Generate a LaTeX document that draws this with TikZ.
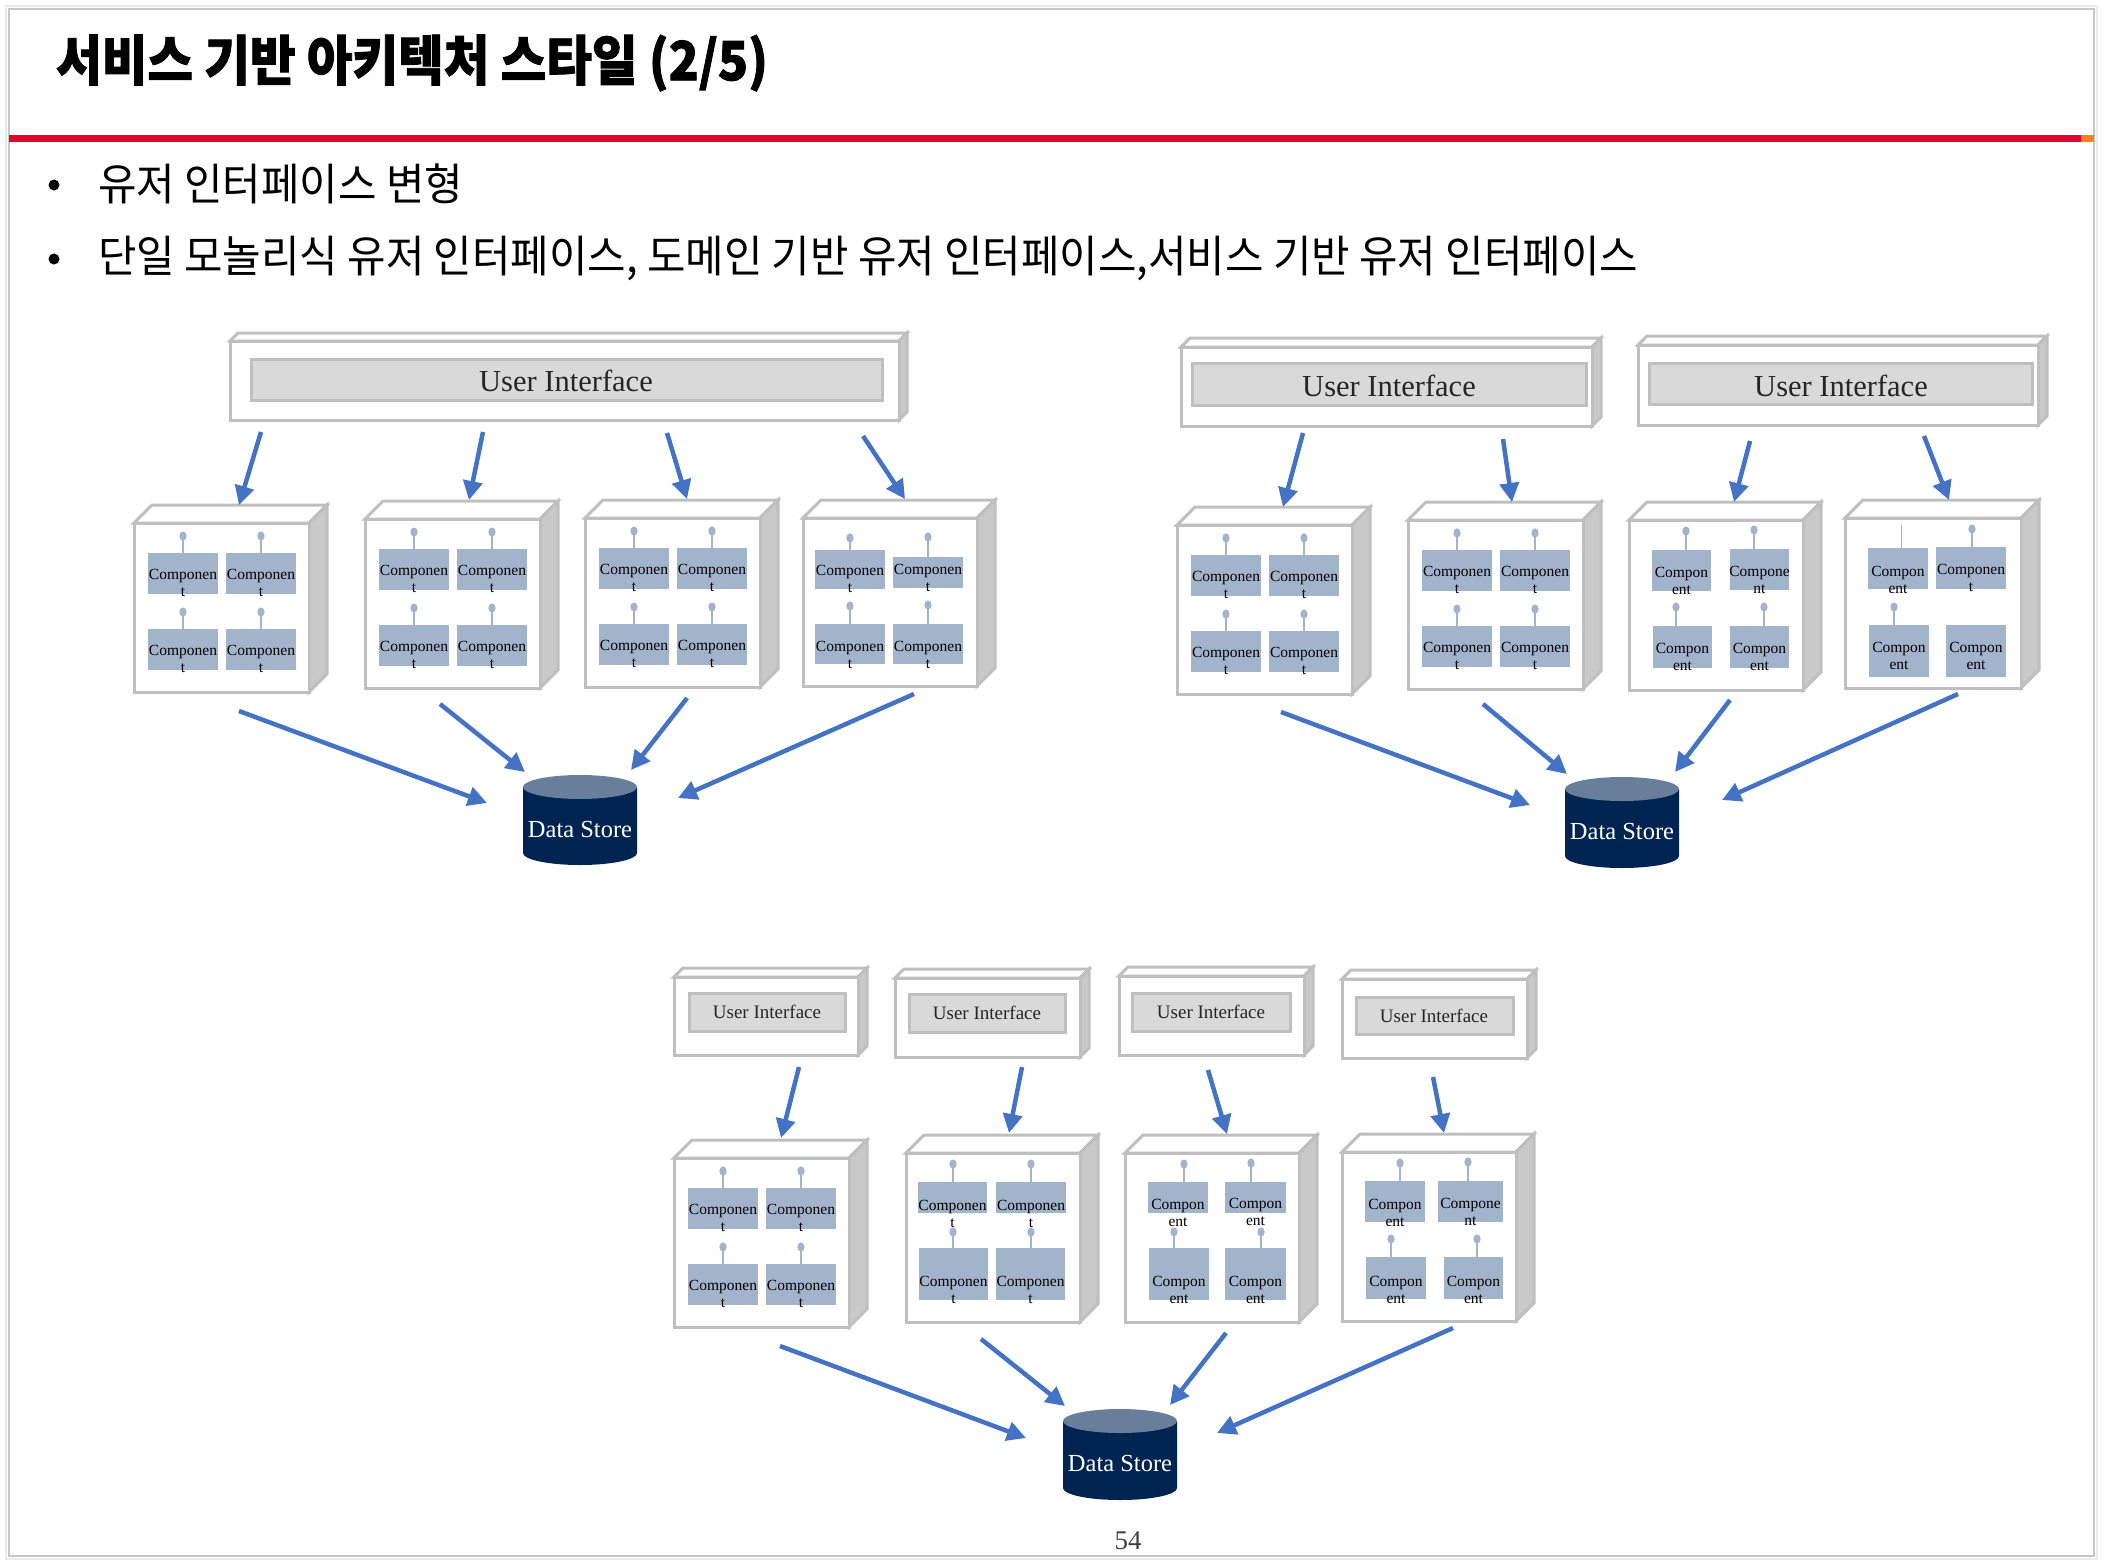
\documentclass[tikz,border=0pt]{standalone}
\usepackage{fontspec}
\setmainfont{Liberation Serif}
\newfontfamily\krfont{Noto Sans CJK KR}
\newfontfamily\krheavy{Noto Sans CJK KR}[BoldFeatures={FakeBold=1.6}]
\usetikzlibrary{arrows.meta,fit,calc}
\definecolor{compblue}{HTML}{A2B3CC}
\definecolor{linegray}{HTML}{BFBFBF}
\definecolor{sidegray}{HTML}{C9C9C9}
\definecolor{barfill}{HTML}{D9D9D9}
\definecolor{arrowblue}{HTML}{4472C4}
\definecolor{dsnavy}{HTML}{002452}
\definecolor{dstop}{HTML}{687E9B}
\definecolor{redline}{HTML}{E8002D}
\definecolor{orangeline}{HTML}{F58220}
\definecolor{uitext}{HTML}{262626}
\definecolor{pagegray}{HTML}{404040}

% 3D box: name, x1, y1, x2, y2, depth
\newcommand\uthreed[6]{%
  \draw[cubeline, fill=white] (#2,#3) -- (#2+#6,#3-#6) -- (#4+#6,#3-#6) -- (#4,#3) -- cycle;
  \draw[cubeline, fill=sidegray] (#4,#3) -- (#4+#6,#3-#6) -- (#4+#6,#5-#6) -- (#4,#5) -- cycle;
  \node[cubefront, fit={(#2,#3) (#4,#5)}] (#1) {};
}
% component: name, x1, y1, x2, y2, line1, line2, baseline
\newcommand\ucomp[8]{%
  \node[compbox, fit={(#2,#3) (#4,#5)}] (#1) {};
  \node[comptext] (#1-a) at ({(#2+#4)/2},#8) {#6};
  \node[comptext] (#1-b) at ({(#2+#4)/2},#8+17.5) {#7};
}
% lollipop: x, circle y, top of box y
\newcommand\ulolli[3]{%
  \draw[lolline] (#1,#2) -- (#1,#3);
  \fill[compblue] (#1,#2) ellipse [x radius=3.6pt, y radius=4.6pt];
}
% standard cube: name, X, Y
\newcommand\ustdcube[3]{%
  \uthreed{#1}{#2}{#3}{#2+175}{#3+169}{18}
  \ucomp{#1-1}{#2+14}{#3+30}{#2+84}{#3+71}{Componen}{t}{#3+56}
  \ucomp{#1-2}{#2+92}{#3+30}{#2+162}{#3+71}{Componen}{t}{#3+56}
  \ucomp{#1-3}{#2+14}{#3+106}{#2+84}{#3+147}{Componen}{t}{#3+132}
  \ucomp{#1-4}{#2+92}{#3+106}{#2+162}{#3+147}{Componen}{t}{#3+132}
  \ulolli{#2+49}{#3+13}{#3+30}
  \ulolli{#2+127}{#3+13}{#3+30}
  \ulolli{#2+49}{#3+89}{#3+106}
  \ulolli{#2+127}{#3+89}{#3+106}
}
% data store: name, cx, top centre y, bottom centre y, text y
\newcommand\udstore[5]{%
  \fill[dsnavy] (#2-57,#3) -- (#2-57,#4) arc[start angle=180, end angle=360, x radius=57pt, y radius=12pt] -- (#2+57,#3) -- cycle;
  \fill[dstop] (#2,#3) ellipse [x radius=57pt, y radius=12pt];
  \node[dstext] (#1) at (#2,#5) {Data Store};
}

\begin{document}
\begin{tikzpicture}[x=1pt,y=-1pt,
  cubeline/.style={draw=linegray, line width=3pt, line join=miter},
  cubefront/.style={cubeline, fill=white, inner sep=0pt, outer sep=0pt},
  uibar/.style={draw=linegray, line width=3pt, fill=barfill, inner sep=0pt, outer sep=0pt},
  compbox/.style={fill=compblue, inner sep=0pt, outer sep=0pt},
  comptext/.style={anchor=base, inner sep=0pt, text=black, font=\fontsize{15.5}{17}\selectfont},
  lolline/.style={draw=compblue, line width=2.5pt},
  uitextL/.style={text=uitext, inner sep=0pt, font=\fontsize{30.5}{36}\selectfont},
  uitextS/.style={text=uitext, inner sep=0pt, font=\fontsize{19}{22}\selectfont},
  dstext/.style={text=white, inner sep=0pt, font=\fontsize{24.5}{28}\selectfont},
  arr/.style={draw=arrowblue, line width=4.5pt, -{Triangle[length=19pt,width=19pt]}}
]
\useasboundingbox (0,0) rectangle (2104,1564);
\fill[white] (0,0) rectangle (2104,1564);
% slide frame
\draw[draw=black!8, line width=2pt] (6,6) rectangle (2097,1559);
\draw[draw=black!22, line width=1.5pt] (9,9) rectangle (2094,1556);
% header
\node[anchor=west, inner sep=0pt, xscale=0.918, font=\krheavy\bfseries\fontsize{54}{60}\selectfont] (title) at (56,63) {서비스 기반 아키텍처 스타일 (2/5)};
\fill[redline] (9,135) rectangle (2081,142);
\fill[orangeline] (2081,135) rectangle (2094,142);
% bullets
\fill (54,185) circle[radius=5.5pt];
\fill (54,259) circle[radius=5.5pt];
\node[anchor=west, inner sep=0pt, xscale=0.95, font=\krfont\fontsize{44}{50}\selectfont] (bul1) at (98,184) {유저 인터페이스 변형};
\node[anchor=west, inner sep=0pt, xscale=0.95, font=\krfont\fontsize{44}{50}\selectfont] (bul2) at (98,258) {단일 모놀리식 유저 인터페이스, 도메인 기반 유저 인터페이스,서비스 기반 유저 인터페이스};

% ===== Diagram A (single monolithic UI) =====
\uthreed{uiA}{230}{341}{899}{420}{8}
\node[uibar, fit={(251,359) (882,400)}] (uiA-bar) {};
\node[uitextL] (uiA-t) at (566,381) {User Interface};
\ustdcube{A1}{134}{523}
\ustdcube{A2}{365}{519}
\ustdcube{A3}{585}{518}
\uthreed{A4}{803}{518}{977}{686}{18}
\ucomp{A4-1}{815}{550}{885}{589}{Componen}{t}{575}
\ucomp{A4-2}{893}{557}{963}{588}{Componen}{t}{574}
\ucomp{A4-3}{815}{624}{885}{664}{Componen}{t}{651}
\ucomp{A4-4}{893}{624}{963}{664}{Componen}{t}{651}
\ulolli{850}{538}{550}
\ulolli{928}{537}{557}
\ulolli{850}{606}{624}
\ulolli{928}{605}{624}
\udstore{ds1}{580}{787}{853}{829}

% ===== Diagrams B and C (domain UIs) =====
\uthreed{uiB}{1181}{347}{1592}{426}{9}
\node[uibar, fit={(1192,363) (1586,405)}] (uiB-bar) {};
\node[uitextL] (uiB-t) at (1389,386) {User Interface};
\uthreed{uiC}{1638}{345}{2038}{425}{9}
\node[uibar, fit={(1649,363) (2032,404)}] (uiC-bar) {};
\node[uitextL] (uiC-t) at (1841,386) {User Interface};
\ustdcube{B1}{1177}{525}
\ustdcube{B2}{1408}{520}
\uthreed{C1}{1629}{520}{1803}{690}{18}
\ucomp{C1-1}{1652}{550}{1711}{591}{Compon}{ent}{577}
\ucomp{C1-2}{1730}{549}{1789}{590}{Compone}{nt}{576}
\ucomp{C1-3}{1653}{626}{1712}{668}{Compon}{ent}{653}
\ucomp{C1-4}{1730}{626}{1789}{668}{Compon}{ent}{653}
\ulolli{1686}{531}{550}
\ulolli{1754}{530}{549}
\ulolli{1676}{607}{626}
\ulolli{1764}{607}{626}
\uthreed{C2}{1845}{518}{2021}{688}{18}
\ucomp{C2-1}{1868}{548}{1928}{589}{Compon}{ent}{576}
\ucomp{C2-2}{1936}{547}{2006}{589}{Componen}{t}{574}
\ucomp{C2-3}{1869}{625}{1929}{677}{Compon}{ent}{652}
\ucomp{C2-4}{1946}{625}{2006}{677}{Compon}{ent}{652}
\draw[draw=compblue, line width=1pt] (1901,525) -- (1901,548);
\ulolli{1972}{529}{547}
\ulolli{1894}{607}{625}
\udstore{ds2}{1622}{789}{856}{831}

% ===== Diagram D (service UIs) =====
\uthreed{uiD1}{674}{977}{858}{1055}{9}
\node[uibar, fit={(689,993) (845,1031)}] (uiD1-bar) {};
\node[uitextS] (uiD1-t) at (767,1012) {User Interface};
\uthreed{uiD2}{895}{978}{1080}{1057}{9}
\node[uibar, fit={(909,994) (1065,1032)}] (uiD2-bar) {};
\node[uitextS] (uiD2-t) at (987,1013) {User Interface};
\uthreed{uiD3}{1119}{976}{1304}{1055}{9}
\node[uibar, fit={(1132,993) (1290,1031)}] (uiD3-bar) {};
\node[uitextS] (uiD3-t) at (1211,1012) {User Interface};
\uthreed{uiD4}{1342}{979}{1527}{1058}{9}
\node[uibar, fit={(1356,997) (1513,1034)}] (uiD4-bar) {};
\node[uitextS] (uiD4-t) at (1434,1016) {User Interface};
\ustdcube{D1}{674}{1158}
\uthreed{D2}{906}{1153}{1080}{1322}{18}
\ucomp{D2-1}{918}{1182}{987}{1213}{Componen}{t}{1210}
\ucomp{D2-2}{996}{1182}{1066}{1213}{Componen}{t}{1210}
\ucomp{D2-3}{919}{1248}{988}{1300}{Componen}{t}{1286}
\ucomp{D2-4}{996}{1248}{1065}{1300}{Componen}{t}{1286}
\ulolli{953}{1164}{1182}
\ulolli{1031}{1164}{1182}
\ulolli{953}{1232}{1248}
\ulolli{1031}{1232}{1248}
\uthreed{D3}{1125}{1153}{1299}{1322}{18}
\ucomp{D3-1}{1148}{1182}{1208}{1213}{Compon}{ent}{1209}
\ucomp{D3-2}{1225}{1182}{1286}{1213}{Compon}{ent}{1208}
\ucomp{D3-3}{1149}{1248}{1209}{1300}{Compon}{ent}{1286}
\ucomp{D3-4}{1225}{1248}{1286}{1300}{Compon}{ent}{1286}
\ulolli{1184}{1164}{1182}
\ulolli{1251}{1163}{1182}
\ulolli{1174}{1232}{1248}
\ulolli{1261}{1232}{1248}
\uthreed{D4}{1342}{1152}{1516}{1321}{18}
\ucomp{D4-1}{1365}{1181}{1425}{1222}{Compon}{ent}{1209}
\ucomp{D4-2}{1438}{1181}{1503}{1222}{Compone}{nt}{1208}
\ucomp{D4-3}{1366}{1257}{1426}{1299}{Compon}{ent}{1286}
\ucomp{D4-4}{1444}{1257}{1503}{1299}{Compon}{ent}{1286}
\ulolli{1400}{1163}{1181}
\ulolli{1468}{1162}{1181}
\ulolli{1391}{1239}{1257}
\ulolli{1477}{1239}{1257}
\udstore{ds3}{1120}{1421}{1488}{1463}

% page number
\node[inner sep=0pt, text=pagegray, font=\fontsize{27}{30}\selectfont] (pnum) at (1128,1541) {54};

% ===== arrow end points =====
\coordinate (ua1s) at (261,432); \coordinate (ua1e) at (239,505);
\coordinate (ua2s) at (483,432); \coordinate (ua2e) at (469,500);
\coordinate (ua3s) at (667,433); \coordinate (ua3e) at (687,499);
\coordinate (ua4s) at (863,436); \coordinate (ua4e) at (905,499);
\coordinate (ca1s) at (239,711); \coordinate (ca1e) at (487,803);
\coordinate (ca2s) at (440,704); \coordinate (ca2e) at (525,772);
\coordinate (ca3s) at (687,698); \coordinate (ca3e) at (631,770);
\coordinate (ca4s) at (914,694); \coordinate (ca4e) at (678,798);
\coordinate (ub1s) at (1303,433); \coordinate (ub1e) at (1283,507);
\coordinate (ub2s) at (1503,439); \coordinate (ub2e) at (1512,502);
\coordinate (uc1s) at (1750,441); \coordinate (uc1e) at (1734,502);
\coordinate (uc2s) at (1924,436); \coordinate (uc2e) at (1949,500);
\coordinate (cb1s) at (1281,712); \coordinate (cb1e) at (1530,805);
\coordinate (cb2s) at (1483,704); \coordinate (cb2e) at (1567,774);
\coordinate (cc1s) at (1730,700); \coordinate (cc1e) at (1675,772);
\coordinate (cc2s) at (1958,694); \coordinate (cc2e) at (1722,800);
\coordinate (ud1s) at (799,1067); \coordinate (ud1e) at (781,1138);
\coordinate (ud2s) at (1022,1067); \coordinate (ud2e) at (1009,1133);
\coordinate (ud3s) at (1208,1070); \coordinate (ud3e) at (1227,1134);
\coordinate (ud4s) at (1433,1077); \coordinate (ud4e) at (1444,1133);
\coordinate (cd1s) at (780,1346); \coordinate (cd1e) at (1026,1438);
\coordinate (cd2s) at (981,1339); \coordinate (cd2e) at (1065,1406);
\coordinate (cd3s) at (1226,1333); \coordinate (cd3e) at (1170,1405);
\coordinate (cd4s) at (1453,1328); \coordinate (cd4e) at (1217,1433);

\foreach \a in {ua1,ua2,ua3,ua4,ca1,ca2,ca3,ca4,ub1,ub2,uc1,uc2,cb1,cb2,cc1,cc2,ud1,ud2,ud3,ud4,cd1,cd2,cd3,cd4}
  \draw[arr] (\a s) -- (\a e);
\end{tikzpicture}
\end{document}
